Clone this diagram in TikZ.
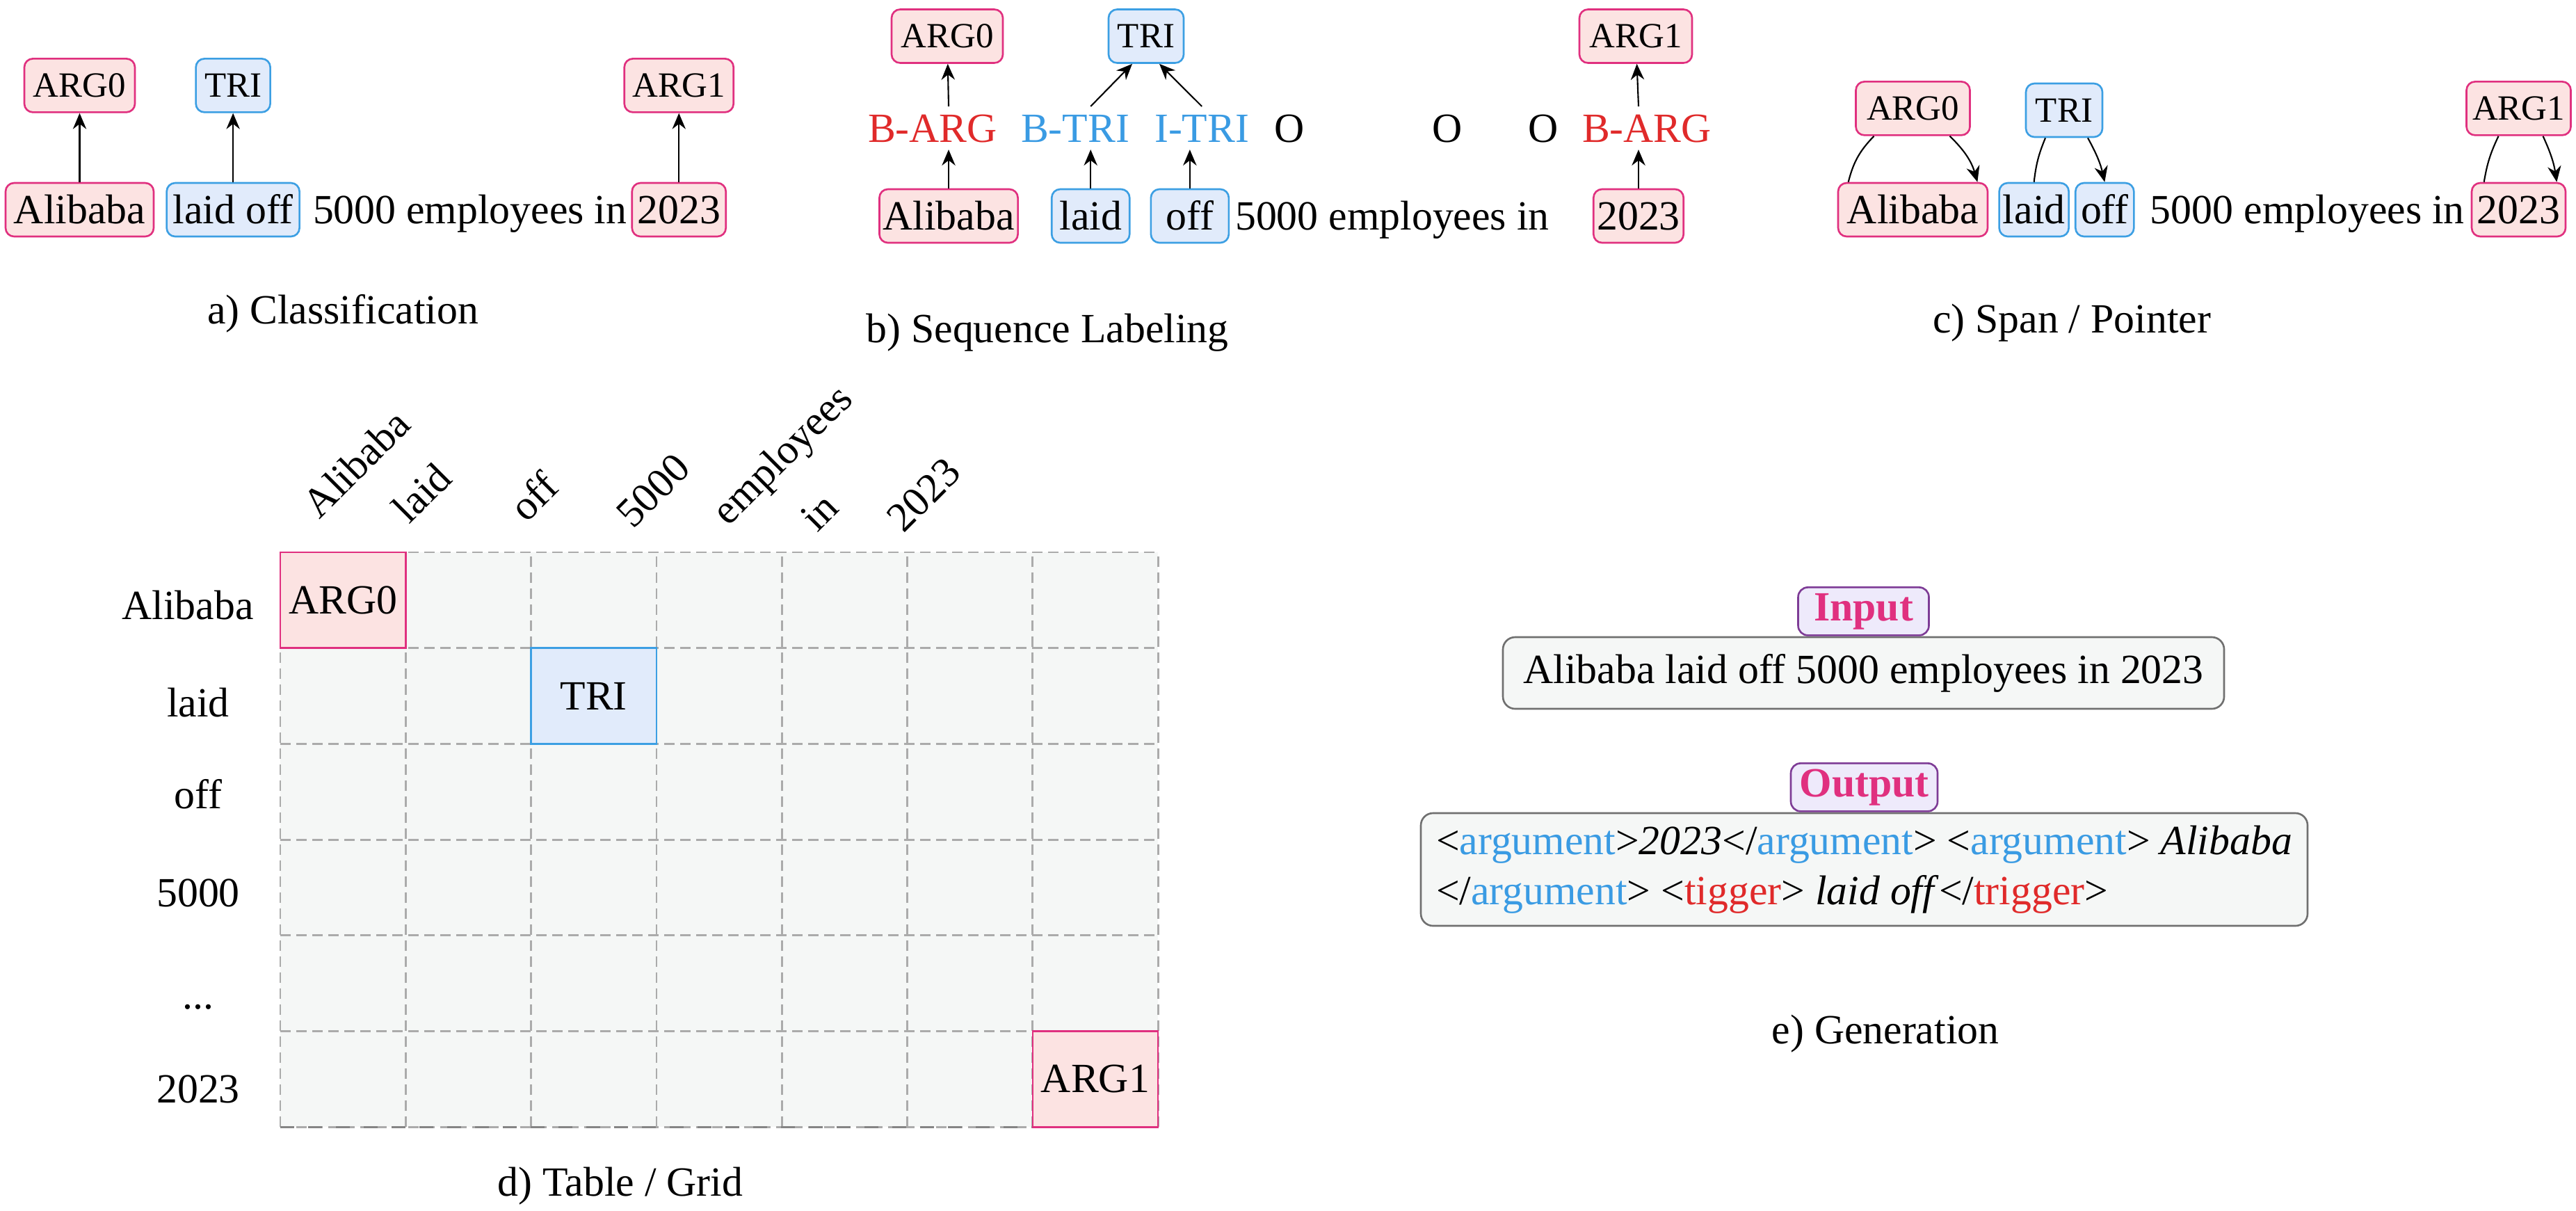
\documentclass[tikz,border=0pt]{standalone}
\usepackage{fontspec}
\setmainfont{Liberation Serif}
\usetikzlibrary{arrows.meta,positioning}
\definecolor{argline}{HTML}{E0307F}
\definecolor{argfill}{HTML}{FCE3E2}
\definecolor{triline}{HTML}{3C9FE3}
\definecolor{trifill}{HTML}{E1EBFB}
\definecolor{tagred}{HTML}{E02A2A}
\definecolor{tagblue}{HTML}{3A9BE3}
\definecolor{boxfill}{HTML}{F5F7F6}
\definecolor{boxline}{HTML}{707070}
\definecolor{gridline}{HTML}{ABABAB}
\definecolor{gridedge}{HTML}{858585}
\definecolor{ioline}{HTML}{7E3C96}
\definecolor{iofill}{HTML}{EEEAFB}
\tikzstyle{wordbox} = [rectangle,rounded corners=3.5pt,line width=0.75pt,inner xsep=0.05cm,inner ysep=0pt,minimum height=0.77cm,text height=0.39cm,text depth=0cm]
\tikzstyle{argword} = [wordbox,draw=argline,fill=argfill]
\tikzstyle{triword} = [wordbox,draw=triline,fill=trifill]
\tikzstyle{arglabel} = [argword,font=\fontsize{14.5}{17}\selectfont,text height=0.33cm]
\tikzstyle{trilabel} = [triword,font=\fontsize{14.5}{17}\selectfont,text height=0.33cm]
\tikzstyle{plaintext} = [inner sep=0pt,text height=0.39cm,text depth=0cm]
\tikzstyle{bio} = [inner xsep=0pt,inner ysep=0.1cm,text height=0.4cm,text depth=0cm]
\tikzstyle{cellbox} = [rectangle,line width=0.75pt,minimum width=1.803cm,minimum height=1.377cm,inner sep=0pt]
\tikzstyle{iobox} = [draw=boxline,fill=boxfill,rounded corners=5pt,line width=0.75pt]
\tikzstyle{iotag} = [draw=ioline,fill=iofill,rounded corners=4pt,line width=0.75pt,text=argline,font=\fontsize{17}{20.4}\selectfont\bfseries,minimum height=0.69cm,text height=0.4cm,text depth=0.12cm,inner ysep=0pt]

\begin{document}
\begin{tikzpicture}[font=\fontsize{17}{20.4}\selectfont,>={Stealth[length=6.5pt,width=5.5pt]},line width=0.6pt]
	\useasboundingbox (0,0) rectangle (37.04,-17.40);

	\node (ali_a) [argword,minimum width=2.13cm] at (1.145,-3.015) {Alibaba};
	\node (lo_a) [triword,minimum width=1.91cm,right=0.16cm of ali_a] {laid off};
	\node (txt_a) [plaintext,right=0.17cm of lo_a] {5000 employees in};
	\node (y23_a) [argword,minimum width=1.35cm,right=0.05cm of txt_a] {2023};
	\node (arg0_a) [arglabel,minimum width=1.59cm,above=0.99cm of ali_a] {ARG0};
	\node (tri_a) [trilabel,minimum width=1.07cm,above=0.99cm of lo_a] {TRI};
	\node (arg1_a) [arglabel,minimum width=1.57cm,above=0.99cm of y23_a] {ARG1};
	\draw [->] (ali_a) -- (arg0_a);
	\draw [->] (lo_a) -- (tri_a);
	\draw [->] (y23_a) -- (arg1_a);
	\node (cap_a) at (4.93,-4.51) {a) Classification};

	\node (ali_b) [argword,minimum width=1.98cm] at (13.64,-3.105) {Alibaba};
	\node (laid_b) [triword,minimum width=1.12cm,right=0.46cm of ali_b] {laid};
	\node (off_b) [triword,minimum width=1.12cm,right=0.28cm of laid_b] {off};
	\node (txt_b) [plaintext,right=0.07cm of off_b] {5000 employees in};
	\node (y23_b) [argword,minimum width=1.28cm] at (23.56,-3.105) {2023};
	\node (barg_b) [bio,text=tagred] at (13.41,-1.84) {B-ARG};
	\node (btri_b) [bio,text=tagblue,right=0.32cm of barg_b] {B-TRI};
	\node (itri_b) [bio,text=tagblue,right=0.34cm of btri_b] {I-TRI};
	\node (o1_b) [bio,right=0.34cm of itri_b] {O};
	\node (o2_b) [bio,right=1.82cm of o1_b] {O};
	\node (o3_b) [bio,right=0.93cm of o2_b] {O};
	\node (barg2_b) [bio,text=tagred,right=0.32cm of o3_b] {B-ARG};
	\node (arg0_b) [arglabel,minimum width=1.60cm] at (13.62,-0.52) {ARG0};
	\node (tri_b) [trilabel,minimum width=1.08cm] at (16.48,-0.52) {TRI};
	\node (arg1_b) [arglabel,minimum width=1.62cm] at (23.52,-0.52) {ARG1};
	\draw [->] (ali_b) -- (ali_b |- barg_b.south);
	\draw [->] (ali_b |- barg_b.north) -- (arg0_b);
	\draw [->] (laid_b) -- (laid_b |- btri_b.south);
	\draw [->] (laid_b |- btri_b.north) -- ([xshift=-0.2cm]tri_b.south);
	\draw [->] (off_b) -- (off_b |- itri_b.south);
	\draw [->] (itri_b.north) -- ([xshift=0.19cm]tri_b.south);
	\draw [->] (y23_b) -- (y23_b |- barg2_b.south);
	\draw [->] (y23_b |- barg2_b.north) -- (arg1_b);
	\node (cap_b) at (15.06,-4.78) {b) Sequence Labeling};

	\node (ali_c) [argword,minimum width=2.15cm] at (27.505,-3.015) {Alibaba};
	\node (laid_c) [triword,minimum width=1.00cm,right=0.14cm of ali_c] {laid};
	\node (off_c) [triword,minimum width=0.84cm,right=0.07cm of laid_c] {off};
	\node (num_c) [plaintext,right=0.21cm of off_c] {5000};
	\node (y23_c) [argword,minimum width=1.35cm] at (36.215,-3.015) {2023};
	\node (txt_c) [plaintext,left=0.08cm of y23_c] {employees in};
	\node (arg0_c) [arglabel,minimum width=1.64cm,above=0.66cm of ali_c] {ARG0};
	\node (tri_c) [trilabel,minimum width=1.10cm] at (29.68,-1.585) {TRI};
	\node (arg1_c) [arglabel,minimum width=1.50cm,above=0.66cm of y23_c] {ARG1};
	\draw ([xshift=-0.56cm]arg0_c.south) to [bend right=15] ([xshift=0.16cm]ali_c.north west);
	\draw [->] ([xshift=0.53cm]arg0_c.south) to [bend left=15] ([xshift=-0.16cm]ali_c.north east);
	\draw ([xshift=-0.27cm]tri_c.south) to [bend right=8] (laid_c.north);
	\draw [->] ([xshift=0.34cm]tri_c.south) to [bend left=8] (off_c.north);
	\draw ([xshift=-0.29cm]arg1_c.south) to [bend right=8] ([xshift=0.19cm]y23_c.north west);
	\draw [->] ([xshift=0.35cm]arg1_c.south) to [bend left=8] ([xshift=-0.14cm]y23_c.north east);
	\node (cap_c) at (29.79,-4.64) {c) Span / Pointer};

	\fill [boxfill] (4.03,-16.202) rectangle (16.651,-7.94);
	\draw [draw=gridline,line width=0.8pt,dash pattern=on 0.15cm off 0.08cm,xstep=1.803cm,ystep=1.377cm,shift={(4.03,-16.202)}] (0,0) grid (12.63,8.27);
	\draw [draw=gridedge,line width=0.8pt,dash pattern=on 0.2cm off 0.2cm] (4.03,-16.202) -- (16.651,-16.202);
	\node (cell_arg0) [cellbox,draw=argline,fill=argfill] at (4.9315,-8.6285) {ARG0};
	\node (cell_tri) [cellbox,draw=triline,fill=trifill] at (8.5375,-10.0055) {TRI};
	\node (cell_arg1) [cellbox,draw=argline,fill=argfill] at (15.7495,-15.5135) {ARG1};
	\node (row_ali) [anchor=base] at (2.70,-8.90) {Alibaba};
	\node (row_laid) [anchor=base] at (2.85,-10.30) {laid};
	\node (row_off) [anchor=base] at (2.85,-11.62) {off};
	\node (row_num) [anchor=base] at (2.85,-13.03) {5000};
	\node (row_dots) [anchor=base] at (2.85,-14.50) {...};
	\node (row_y23) [anchor=base] at (2.85,-15.85) {2023};
	\node (col_ali) [rotate=45,anchor=base west,inner sep=0pt] at (4.59,-7.48) {Alibaba};
	\node (col_laid) [rotate=45,anchor=base west,inner sep=0pt] at (5.88,-7.55) {laid};
	\node (col_off) [rotate=45,anchor=base west,inner sep=0pt] at (7.57,-7.53) {off};
	\node (col_num) [rotate=45,anchor=base west,inner sep=0pt] at (9.10,-7.62) {5000};
	\node (col_emp) [rotate=45,anchor=base west,inner sep=0pt] at (10.47,-7.58) {employees};
	\node (col_in) [rotate=45,anchor=base west,inner sep=0pt] at (11.75,-7.67) {in};
	\node (col_y23) [rotate=45,anchor=base west,inner sep=0pt] at (12.99,-7.68) {2023};
	\node (cap_d) at (8.92,-17.05) {d) Table / Grid};

	\node (in_box) [iobox,minimum width=10.37cm,minimum height=1.03cm,text height=0.4cm,text depth=0.1cm] at (26.795,-9.675) {Alibaba laid off 5000 employees in 2023};
	\node (in_tag) [iotag,minimum width=1.88cm,above=0cm of in_box] {Input};
	\node (out_box) [iobox,align=left,inner xsep=0.22cm,inner ysep=0.18cm,minimum height=1.62cm] at (26.805,-12.50) {<\textcolor{tagblue}{argument}>\textit{2023}</\textcolor{tagblue}{argument}> <\textcolor{tagblue}{argument}> \textit{Alibaba}\\</\textcolor{tagblue}{argument}> <\textcolor{tagred}{tigger}> \textit{laid off}</\textcolor{tagred}{trigger}>};
	\node (out_tag) [iotag,minimum width=2.11cm,above=0cm of out_box] {Output};
	\node (cap_e) at (27.11,-14.86) {e) Generation};
\end{tikzpicture}
\end{document}
